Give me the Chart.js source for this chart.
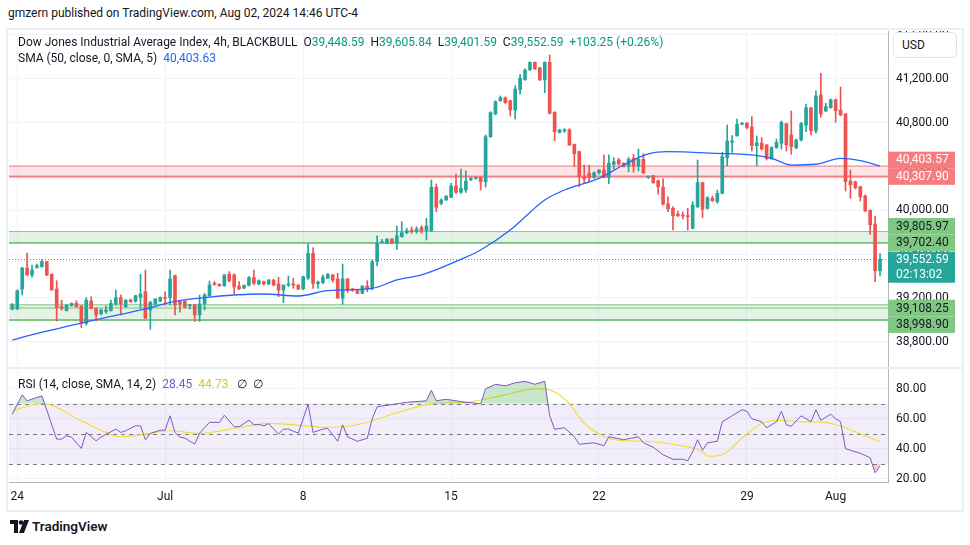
<!DOCTYPE html>
<html><head><meta charset="utf-8">
<script src="https://cdn.jsdelivr.net/npm/chart.js@4.4.1/dist/chart.umd.min.js"></script>
<style>
body{margin:0;width:970px;height:545px;background:#fff;font-family:Roboto,'Liberation Sans',sans-serif;color:#131722;position:relative;overflow:hidden}
.abs{position:absolute;white-space:nowrap}
#hdr{left:8px;top:6px;font-size:12px;color:#131722}
#frame{left:6px;top:28px;width:954px;height:480px;border:2px solid #eceef3}
#sep{left:8px;top:367px;width:954px;height:2px;background:#eceef3}
#leg1{left:18px;top:34px;font-size:12px;line-height:16px}
#leg2{left:18px;top:50px;font-size:12px;line-height:16px}
#leg3{left:18px;top:376px;font-size:12px;line-height:16px}
.g{color:#089981}.b{color:#2962ff}.p{color:#7e57c2}.y{color:#e3c51e}
#usd{left:893px;top:32px;width:62px;height:24px;border:1px solid #e0e3eb;border-radius:5px;font-size:12px;line-height:24px;text-indent:8px;background:#fff}
#foot{left:32px;top:518px;font-size:13.5px;font-weight:600;color:#131722}
canvas{position:absolute}
</style></head>
<body>
<div id="hdr" class="abs">gmzern published on TradingView.com, Aug 02, 2024 14:46 UTC-4</div>
<div id="frame" class="abs"></div>
<canvas id="pc" width="953" height="337" style="left:9px;top:31px"></canvas>
<div id="sep" class="abs"></div>
<canvas id="rc" width="953" height="142" style="left:9px;top:368px"></canvas>
<div id="leg1" class="abs">Dow Jones Industrial Average Index, 4h, BLACKBULL&nbsp;&nbsp;O<span class="g">39,448.59</span>&nbsp;&nbsp;H<span class="g">39,605.84</span>&nbsp;&nbsp;L<span class="g">39,401.59</span>&nbsp;&nbsp;C<span class="g">39,552.59</span>&nbsp;&nbsp;<span class="g">+103.25 (+0.26%)</span></div>
<div id="leg2" class="abs">SMA (50, close, 0, SMA, 5)&nbsp;&nbsp;<span class="b">40,403.63</span></div>
<div id="leg3" class="abs">RSI (14, close, SMA, 14, 2)&nbsp;&nbsp;<span class="p">28.45</span>&nbsp;&nbsp;<span class="y">44.73</span>&nbsp;&nbsp;&nbsp;∅&nbsp;&nbsp;∅</div>
<div id="usd" class="abs">USD</div>
<svg class="abs" style="left:10px;top:520px" width="20" height="13" viewBox="0 0 20 13"><path d="M0 0h8v13H4V4H0z" fill="#131722"/><circle cx="11" cy="2.5" r="2.3" fill="#131722"/><path d="M14 0h5l-5 13H9z" fill="#131722"/></svg>
<div id="foot" class="abs">TradingView</div>
<script>
// ---------- DATA ----------
const opens = [39100,39100,39280,39473,39410,39480,39485,39531,39416,39282,39120,39085,39130,39150,39127,38968,39172,39105,39055,39078,
39085,39145,39203,39120,39181,39172,39206,39257,39090,39142,39172,39203,39203,39404,39172,39172,39130,39136,39045,39145,
39221,39334,39325,39312,39416,39410,39310,39290,39315,39385,39328,39349,39328,39363,39328,39272,39318,39328,39318,39282,
39380,39607,39330,39340,39380,39410,39373,39199,39373,39282,39267,39242,39309,39288,39531,39705,39699,39738,39699,39760,
39796,39820,39805,39842,39811,39814,40210,40064,40094,40118,40222,40164,40185,40280,40290,40301,40261,40672,40879,41000,
41027,41000,40915,41100,41192,41283,41350,41300,41189,41350,40894,40710,40725,40733,40602,40535,40307,40338,40298,40343,
40368,40298,40420,40459,40429,40404,40474,40404,40465,40300,40316,40270,40210,40058,40018,39966,39957,39948,39836,40033,
40252,40018,40110,40079,40155,40480,40620,40681,40785,40796,40760,40590,40614,40596,40470,40571,40611,40790,40687,40571,
40641,40778,40936,40724,41052,40906,40936,41009,40915,40879,40267,40261,40215,40130,39999,39875,39448.59];
const highs = [39150,39275,39480,39610,39500,39510,39550,39535,39420,39358,39179,39140,39155,39175,39130,39203,39212,39110,39100,39127,
39181,39272,39227,39185,39190,39225,39416,39455,39172,39195,39210,39257,39455,39410,39175,39175,39140,39142,39227,39242,
39355,39350,39330,39415,39440,39420,39350,39320,39395,39455,39365,39355,39370,39370,39388,39320,39400,39380,39320,39400,
39693,39659,39355,39410,39425,39415,39425,39510,39378,39290,39272,39312,39358,39546,39766,39735,39742,39742,39857,39896,
39836,39850,39850,39860,39927,40277,40240,40105,40135,40246,40331,40377,40359,40300,40305,40305,40687,40900,41000,41043,
41035,41005,41137,41241,41290,41355,41355,41305,41355,41417,40900,40740,40745,40745,40605,40540,40413,40413,40350,40370,
40505,40505,40480,40475,40435,40484,40511,40559,40517,40315,40320,40275,40286,40124,40033,39993,39985,40018,40079,40459,
40258,40125,40130,40185,40529,40778,40681,40833,40800,40800,40854,40678,40663,40600,40580,40650,40815,40795,40906,40650,
40803,40970,40940,41089,41250,40976,41015,41015,41125,40885,40368,40265,40220,40140,40005,39948,39605.84];
const lows = [39090,39095,39227,39405,39389,39470,39480,39404,39270,38990,39088,39080,39125,39115,38929,38953,39100,38990,39045,39060,
39080,39135,39045,39115,39160,39160,39105,39010,38914,39135,39165,39136,39136,39045,39070,39110,39100,38985,38985,39090,
39215,39315,39305,39305,39345,39240,39275,39285,39310,39318,39320,39318,39320,39310,39212,39157,39303,39288,39275,39275,
39370,39288,39288,39330,39375,39345,39195,39142,39248,39260,39238,39238,39257,39273,39492,39700,39695,39695,39644,39754,
39785,39790,39790,39790,39729,39805,39987,40050,40090,40115,40155,40155,40164,40270,40285,40185,40210,40665,40870,40995,
40975,40860,40833,41059,41185,41275,41285,41185,41073,40879,40635,40705,40710,40590,40398,40215,40246,40261,40290,40330,
40295,40243,40377,40410,40395,40352,40347,40359,40334,40290,40245,40146,40048,39987,39820,39942,39920,39820,39830,40024,
39933,40010,40080,40065,40150,40407,40529,40675,40780,40740,40541,40407,40550,40459,40465,40565,40559,40541,40511,40560,
40632,40717,40687,40703,40849,40900,40930,40803,40863,40176,40110,40195,40085,39987,39781,39348,39401.59];
const closes = [39140,39265,39473,39410,39455,39495,39531,39410,39273,39111,39105,39136,39150,39120,38966,39181,39105,39045,39090,39090,
39150,39203,39145,39181,39166,39221,39236,39015,39160,39190,39203,39197,39373,39136,39145,39115,39136,39045,39145,39227,
39318,39325,39312,39410,39358,39300,39283,39315,39388,39334,39358,39328,39363,39318,39272,39318,39328,39318,39282,39394,
39607,39334,39345,39390,39416,39363,39199,39373,39267,39270,39242,39309,39282,39531,39699,39714,39738,39699,39766,39796,
39814,39805,39830,39811,39857,40210,40027,40094,40130,40222,40164,40200,40267,40290,40295,40261,40672,40891,40991,41027,
40982,40915,41107,41205,41280,41350,41289,41189,41350,40885,40717,40733,40735,40596,40514,40307,40286,40298,40343,40368,
40298,40429,40444,40422,40398,40465,40404,40465,40343,40307,40252,40215,40055,40012,39951,39951,39948,39942,40048,40252,
40009,40115,40088,40155,40489,40632,40632,40785,40796,40754,40590,40614,40559,40474,40571,40620,40803,40596,40580,40641,
40790,40936,40724,41043,40879,40945,41009,40909,40870,40261,40231,40206,40124,39994,39866,39449,39552.59];

// SMA(50) at bar positions
const smaIdx = [0,4,15,22,28,32,39,45,51,58,64,73,78,83,91,95,101,108,112,119,124,129,133,143,150,154,158,163,168,172,176];
const smaVal = [38815,38865,38982,39051,39111,39160,39203,39227,39236,39218,39267,39288,39364,39410,39553,39638,39820,40094,40185,40292,40413,40514,40535,40520,40505,40474,40413,40420,40474,40453,40404];

// RSI(14) and its SMA
const rsiIdx = [0,2,3,6,9,10,11,12,14,15,17,18,21,22,23,25,26,27,28,30,31,32,33,34,35,37,38,40,42,43,45,46,48,49,50,51,52,54,55,56,58,60,61,63,64,
66,67,68,70,72,73,74,76,78,80,84,85,86,88,90,92,95,96,98,100,102,104,106,108,109,110,112,114,115,118,120,121,124,127,128,130,132,134,136,137,138,139,140,141,143,144,146,148,149,150,152,153,155,156,157,158,160,162,163,164,166,167,168,169,170,172,174,175,176];
const rsiVal = [63,76,72,75.3,46.4,46.4,48.7,47.8,40.2,50.9,45.3,47.8,53.1,50.9,52,55.3,55.3,46,50.2,52.4,52.4,62,50.9,47.8,47.1,43.1,50.4,57.6,57.6,62.4,54.7,54.7,59.1,56,56.2,55.3,56.7,49.8,53.1,53.1,50.4,69.8,50.9,53.1,53.5,
45,56,48,45,47,60,68,69,70,71,72,79,72,73,72,71,70,80,83,82,84,85,83,85,62,53,54,48,43,44,42,48,46,48,44,41,36,33,33,32,38,46,39,44,45,58,62,66,65,60,58,54,58,65,56,55,62,58,66,59,63,60,58,40,39,37,34,24,28.45];
const rsiMaIdx = [0,6,14,19,22,27,32,38,45,52,58,64,70,78,85,92,100,106,108,110,113,116,119,122,128,134,140,141,144,148,152,156,160,164,168,172,176];
const rsiMaVal = [65.3,70.2,58.7,50.9,48,49.8,52,50.2,53.6,56.9,55.8,54.2,56,64,70,71,76,80,80,78,70,57,50,46,45,43,38,35,36,47,57,59,58,58,55,50,44.73];

const dateTickIdx = [1,31,59,89,119,149,167];
const dateTickLabels = ['24','Jul','8','15','22','29','Aug'];
const priceTicks = [38800,39200,39600,40000,40400,40800,41200,41600];
const rsiTicks = [20,40,60,80];

const zoneHi = [40403.57,39805.97,39108.25,39138];
const zoneLo = [40307.90,39702.40,38998.90,39108.25];
const zoneKind = ['res','sup','sup','sup'];
const zoneLabeled = [true,true,true,false];
const lastPrice = 39552.59;
const countdown = '02:13:02';
const rsiLevels = [70,50,30];

// ---------- STYLE ----------
const UP='#26a69a', DN='#ef5350';
const FONT="Roboto,'Liberation Sans',sans-serif";
Chart.defaults.font.family = FONT;
Chart.defaults.font.size = 12;
Chart.defaults.color = '#131722';
Chart.defaults.animation = false;
const XMIN = -0.67, XMAX = 177.62;
const GRID = '#f0f3fa';
const zoneStyle = {res:{fill:'rgba(242,54,69,0.13)',line:'#f77c80',box:'#f77c80',txt:'#ffffff'},
                   sup:{fill:'rgba(76,175,80,0.15)',line:'#81c784',box:'#81c784',txt:'#131722'}};
const n = closes.length;
const idx = Array.from({length:n},(_, i)=>i);
const colorOf = i => closes[i] >= opens[i] ? UP : DN;
const fmt = v => v.toLocaleString('en-US',{minimumFractionDigits:2,maximumFractionDigits:2});

const xScale = (showLabels) => ({
  type:'linear', min:XMIN, max:XMAX, offset:false,
  afterBuildTicks: ax => { ax.ticks = dateTickIdx.map(v=>({value:v})); },
  grid:{color:GRID, offset:false, drawTicks:false},
  border:{display:showLabels, color:'#b2b5be'},
  ticks:{display:showLabels, padding:7, maxRotation:0, autoSkip:false,
         callback: v => dateTickLabels[dateTickIdx.indexOf(v)] || ''},
  afterFit: ax => { ax.height = showLabels ? 27.5 : 0; ax.paddingLeft = 0; ax.paddingRight = 0; }
});
const yScale = (min, max, ticks, fmtFn) => ({
  type:'linear', position:'right', min, max,
  afterBuildTicks: ax => { ax.ticks = ticks.map(v=>({value:v})); },
  grid:{color:GRID, drawTicks:false},
  border:{display:true, color:'#b2b5be'},
  ticks:{padding:8, callback:fmtFn},
  afterFit: ax => { ax.width = 74; ax.paddingTop = 0; ax.paddingBottom = 0; }
});

const zonePlugin = {id:'zones', beforeDatasetsDraw(chart){
  const {ctx, chartArea:a, scales:{y}} = chart;
  ctx.save();
  zoneHi.forEach((hi,k)=>{
    const st = zoneStyle[zoneKind[k]];
    const t = y.getPixelForValue(hi), b = y.getPixelForValue(zoneLo[k]);
    ctx.fillStyle = st.fill; ctx.fillRect(a.left, t, a.right-a.left, b-t);
    ctx.fillStyle = st.line;
    ctx.fillRect(a.left, t-0.5, a.right-a.left, 1);
    if (zoneLabeled[k]) ctx.fillRect(a.left, b-1, a.right-a.left, 2);
  });
  ctx.restore();
}, afterDatasetsDraw(chart){
  const {ctx, chartArea:a, scales:{y}} = chart;
  const py = Math.round(y.getPixelForValue(lastPrice))+0.5;
  ctx.save(); ctx.strokeStyle = UP; ctx.lineWidth=1; ctx.setLineDash([1,2]);
  ctx.beginPath(); ctx.moveTo(a.left,py); ctx.lineTo(a.right,py); ctx.stroke(); ctx.restore();
}};

const axisLabelPlugin = {id:'axisLabels', afterDraw(chart){
  const {ctx, chartArea:a, scales:{y}} = chart;
  const h = 16.6, w = 67, x0 = a.right;
  const cur = y.getPixelForValue(lastPrice);
  const curTop = cur - 7.6, curH = 31;
  const items = [];
  zoneHi.forEach((hi,k)=>{ if (zoneLabeled[k]) { items.push({v:hi,k}); items.push({v:zoneLo[k],k}); } });
  const above = items.filter(it=>it.v>lastPrice).sort((p,q)=>p.v-q.v);
  let lim = curTop;
  above.forEach(it=>{ const c=y.getPixelForValue(it.v); const bot=Math.min(c+h/2,lim); it.c=bot-h/2; lim=bot-h; });
  const below = items.filter(it=>it.v<lastPrice).sort((p,q)=>q.v-p.v);
  lim = curTop + curH;
  below.forEach(it=>{ const c=y.getPixelForValue(it.v); const top=Math.max(c-h/2,lim); it.c=top+h/2; lim=top+h; });
  ctx.save();
  ctx.font = '12px '+FONT; ctx.textBaseline='middle'; ctx.textAlign='left';
  items.forEach(it=>{
    const st = zoneStyle[zoneKind[it.k]];
    ctx.fillStyle = st.box; ctx.fillRect(x0, it.c-h/2, w, h);
    ctx.fillStyle = st.txt; ctx.fillText(fmt(it.v), x0+8, it.c+0.5);
  });
  ctx.fillStyle = UP; ctx.fillRect(x0, curTop, w, curH);
  ctx.fillStyle = '#ffffff';
  ctx.fillText(fmt(lastPrice), x0+8, curTop+8);
  ctx.fillText(countdown, x0+8, curTop+23);
  ctx.restore();
}};

new Chart(document.getElementById('pc'), {
  type:'bar',
  data:{datasets:[
    {type:'line', order:0, data: smaIdx.map((x,i)=>({x, y:smaVal[i]})), borderColor:'#2962ff', borderWidth:1.3, pointRadius:0, tension:0.4, cubicInterpolationMode:'monotone'},
    {order:1, data: idx.map(i=>({x:i, y:[opens[i], closes[i]]})), backgroundColor: c=>colorOf(c.dataIndex), borderWidth:0, barThickness:3, minBarLength:1, grouped:false},
    {order:2, data: idx.map(i=>({x:i, y:[lows[i], highs[i]]})), backgroundColor: c=>colorOf(c.dataIndex), borderWidth:0, barThickness:1, grouped:false}
  ]},
  options:{
    responsive:false, devicePixelRatio:1, layout:{padding:0},
    plugins:{legend:{display:false}, tooltip:{enabled:false}},
    scales:{ x: xScale(false), y: yScale(38561, 41636, priceTicks, v=>fmt(v)) }
  },
  plugins:[zonePlugin, axisLabelPlugin]
});

const rsiBandPlugin = {id:'rsiBand', beforeDatasetsDraw(chart){
  const {ctx, chartArea:a, scales:{y}} = chart;
  ctx.save();
  const t = y.getPixelForValue(rsiLevels[0]), b = y.getPixelForValue(rsiLevels[2]);
  ctx.fillStyle = 'rgba(126,87,194,0.1)'; ctx.fillRect(a.left, t, a.right-a.left, b-t);
  ctx.strokeStyle = '#787b86'; ctx.lineWidth = 1; ctx.setLineDash([4,4]);
  rsiLevels.forEach(v=>{ const py=Math.round(y.getPixelForValue(v))+0.5; ctx.beginPath(); ctx.moveTo(a.left,py); ctx.lineTo(a.right,py); ctx.stroke(); });
  ctx.restore();
}};

const rsiPts = rsiIdx.map((x,i)=>({x, y:rsiVal[i]}));
new Chart(document.getElementById('rc'), {
  type:'line',
  data:{datasets:[
    {order:0, data:rsiPts, borderColor:'#7e57c2', borderWidth:1, pointRadius:0, tension:0,
     fill:{target:{value:70}, above:'rgba(76,175,80,0.3)', below:'rgba(0,0,0,0)'}},
    {order:1, data:rsiPts, borderColor:'rgba(0,0,0,0)', borderWidth:0, pointRadius:0, tension:0,
     fill:{target:{value:30}, above:'rgba(0,0,0,0)', below:'rgba(242,54,69,0.25)'}},
    {order:2, data:rsiMaIdx.map((x,i)=>({x, y:rsiMaVal[i]})), borderColor:'#f5dc3c', borderWidth:1.2, pointRadius:0, tension:0.4, cubicInterpolationMode:'monotone', fill:false}
  ]},
  options:{
    responsive:false, devicePixelRatio:1, layout:{padding:{top:1}},
    plugins:{legend:{display:false}, tooltip:{enabled:false}},
    scales:{ x: xScale(true), y: yScale(17.5, 93.2, rsiTicks, v=>v.toFixed(2)) }
  },
  plugins:[rsiBandPlugin]
});
</script>
</body></html>
